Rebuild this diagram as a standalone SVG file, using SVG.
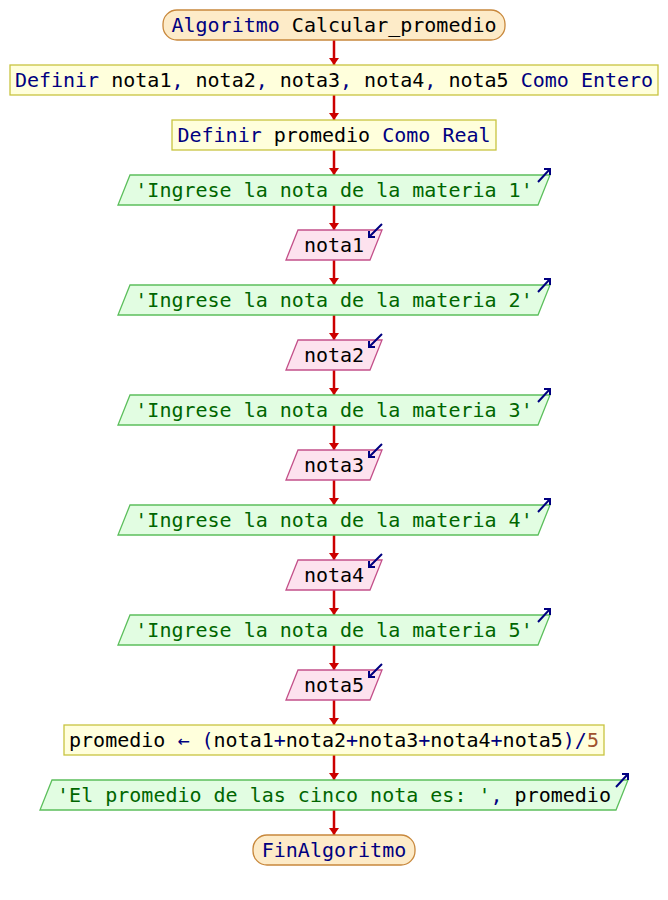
<svg xmlns="http://www.w3.org/2000/svg" xmlns:xlink="http://www.w3.org/1999/xlink" width="668" height="900" viewBox="0 0 668 900">
  <style>
    text { font-family: "DejaVu Sans Mono", "Liberation Mono", monospace; font-size: 20px; text-anchor: middle; white-space: pre; fill: #000000; }
    .kw { fill: #000080; }
    .op { fill: #000080; }
    .str { fill: #006600; }
    .num { fill: #a0522d; }
    .term { fill: #fdebc8; stroke: #c8883c; stroke-width: 1.3; }
    .proc { fill: #ffffdc; stroke: #c8c440; stroke-width: 1.3; }
    .out { fill: #e2fde2; stroke: #5cbf5c; stroke-width: 1.3; }
    .in { fill: #fde2ee; stroke: #c4508a; stroke-width: 1.3; }
    .flow { stroke: #cc0000; stroke-width: 2.5; fill: none; marker-end: url(#head); }
    .icon { stroke: #000080; stroke-width: 2; fill: none; }
  </style>
  <defs>
    <marker id="head" markerUnits="userSpaceOnUse" markerWidth="7" markerHeight="10" viewBox="0 0 7 10" refX="7" refY="5" orient="auto">
      <path d="M0,0 L7,5 L0,10 z" fill="#cc0000"/>
    </marker>
    <!-- output arrow icon, anchored at the top-right corner of the shape -->
    <path id="out-icon" class="icon" d="M-12,7 L0,-6 M-6,-6 L0,-6 L0,0"/>
    <!-- input arrow icon, anchored at the top-right corner of the shape -->
    <path id="in-icon" class="icon" d="M0,-6 L-13,7 M-13,1 L-13,7 L-7,7"/>
  </defs>

  <g id="connectors">
    <line class="flow" x1="334" y1="40" x2="334" y2="65"/>
    <line class="flow" x1="334" y1="95" x2="334" y2="120"/>
    <line class="flow" x1="334" y1="150" x2="334" y2="175"/>
    <line class="flow" x1="334" y1="205" x2="334" y2="230"/>
    <line class="flow" x1="334" y1="260" x2="334" y2="285"/>
    <line class="flow" x1="334" y1="315" x2="334" y2="340"/>
    <line class="flow" x1="334" y1="370" x2="334" y2="395"/>
    <line class="flow" x1="334" y1="425" x2="334" y2="450"/>
    <line class="flow" x1="334" y1="480" x2="334" y2="505"/>
    <line class="flow" x1="334" y1="535" x2="334" y2="560"/>
    <line class="flow" x1="334" y1="590" x2="334" y2="615"/>
    <line class="flow" x1="334" y1="645" x2="334" y2="670"/>
    <line class="flow" x1="334" y1="700" x2="334" y2="725"/>
    <line class="flow" x1="334" y1="755" x2="334" y2="780"/>
    <line class="flow" x1="334" y1="810" x2="334" y2="835"/>
  </g>

  <g id="inicio">
    <rect class="term" x="163" y="10" width="342" height="30" rx="14" ry="14"/>
    <text x="334" y="32"><tspan class="kw">Algoritmo</tspan> Calcular_promedio</text>
  </g>

  <g id="definir-notas">
    <rect class="proc" x="10" y="65" width="648" height="30"/>
    <text x="334" y="87"><tspan class="kw">Definir</tspan> nota1<tspan class="op">,</tspan> nota2<tspan class="op">,</tspan> nota3<tspan class="op">,</tspan> nota4<tspan class="op">,</tspan> nota5 <tspan class="kw">Como</tspan> <tspan class="kw">Entero</tspan></text>
  </g>

  <g id="definir-promedio">
    <rect class="proc" x="172" y="120" width="324" height="30"/>
    <text x="334" y="142"><tspan class="kw">Definir</tspan> promedio <tspan class="kw">Como</tspan> <tspan class="kw">Real</tspan></text>
  </g>

  <g id="escribir-1">
    <polygon class="out" points="130,175 550,175 538,205 118,205"/>
    <use xlink:href="#out-icon" x="550" y="175"/>
    <text class="str" x="334" y="197">'Ingrese la nota de la materia 1'</text>
  </g>
  <g id="leer-1">
    <polygon class="in" points="298,230 382,230 370,260 286,260"/>
    <use xlink:href="#in-icon" x="382" y="230"/>
    <text x="334" y="252">nota1</text>
  </g>

  <g id="escribir-2">
    <polygon class="out" points="130,285 550,285 538,315 118,315"/>
    <use xlink:href="#out-icon" x="550" y="285"/>
    <text class="str" x="334" y="307">'Ingrese la nota de la materia 2'</text>
  </g>
  <g id="leer-2">
    <polygon class="in" points="298,340 382,340 370,370 286,370"/>
    <use xlink:href="#in-icon" x="382" y="340"/>
    <text x="334" y="362">nota2</text>
  </g>

  <g id="escribir-3">
    <polygon class="out" points="130,395 550,395 538,425 118,425"/>
    <use xlink:href="#out-icon" x="550" y="395"/>
    <text class="str" x="334" y="417">'Ingrese la nota de la materia 3'</text>
  </g>
  <g id="leer-3">
    <polygon class="in" points="298,450 382,450 370,480 286,480"/>
    <use xlink:href="#in-icon" x="382" y="450"/>
    <text x="334" y="472">nota3</text>
  </g>

  <g id="escribir-4">
    <polygon class="out" points="130,505 550,505 538,535 118,535"/>
    <use xlink:href="#out-icon" x="550" y="505"/>
    <text class="str" x="334" y="527">'Ingrese la nota de la materia 4'</text>
  </g>
  <g id="leer-4">
    <polygon class="in" points="298,560 382,560 370,590 286,590"/>
    <use xlink:href="#in-icon" x="382" y="560"/>
    <text x="334" y="582">nota4</text>
  </g>

  <g id="escribir-5">
    <polygon class="out" points="130,615 550,615 538,645 118,645"/>
    <use xlink:href="#out-icon" x="550" y="615"/>
    <text class="str" x="334" y="637">'Ingrese la nota de la materia 5'</text>
  </g>
  <g id="leer-5">
    <polygon class="in" points="298,670 382,670 370,700 286,700"/>
    <use xlink:href="#in-icon" x="382" y="670"/>
    <text x="334" y="692">nota5</text>
  </g>

  <g id="asignar-promedio">
    <rect class="proc" x="64" y="725" width="540" height="30"/>
    <text x="334" y="747">promedio <tspan class="op">←</tspan> <tspan class="op">(</tspan>nota1<tspan class="op">+</tspan>nota2<tspan class="op">+</tspan>nota3<tspan class="op">+</tspan>nota4<tspan class="op">+</tspan>nota5<tspan class="op">)/</tspan><tspan class="num">5</tspan></text>
  </g>

  <g id="escribir-resultado">
    <polygon class="out" points="52,780 628,780 616,810 40,810"/>
    <use xlink:href="#out-icon" x="628" y="780"/>
    <text x="334" y="802"><tspan class="str">'El promedio de las cinco nota es: '</tspan><tspan class="op">,</tspan> promedio</text>
  </g>

  <g id="fin">
    <rect class="term" x="253" y="835" width="162" height="30" rx="14" ry="14"/>
    <text class="kw" x="334" y="857">FinAlgoritmo</text>
  </g>
</svg>
